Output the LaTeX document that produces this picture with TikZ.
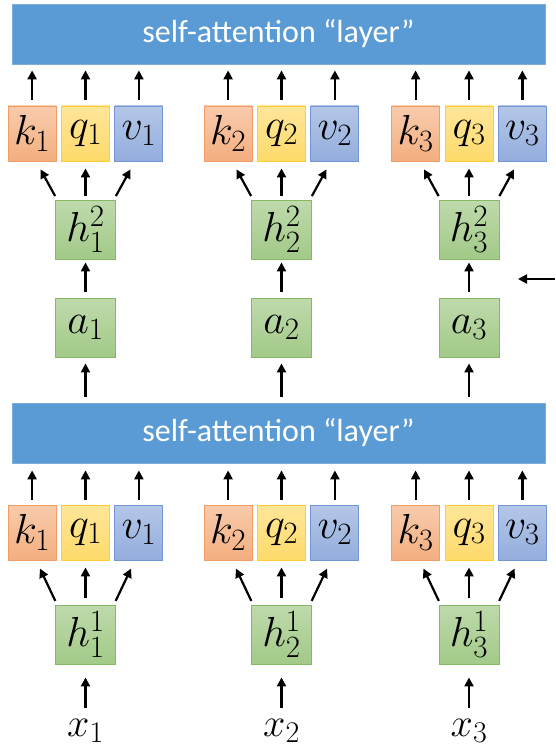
\RequirePackage{fix-cm}
\documentclass[tikz,border=0pt]{standalone}
\usepackage{fontspec}
\newfontfamily\barfont{Carlito}
\DeclareMathSizes{42}{42}{31}{22}
\DeclareMathSizes{40}{40}{30}{21}
\usetikzlibrary{arrows.meta,positioning,calc}
\definecolor{barblue}{HTML}{5B9BD5}
\definecolor{korange}{HTML}{ED7D31}
\definecolor{qgold}{HTML}{FFC000}
\definecolor{vblue}{HTML}{4472C4}
\definecolor{hgreen}{HTML}{70AD47}
\tikzset{
  cell/.style    = {inner sep=0pt, line width=0.9pt, font=\fontsize{42}{48}\selectfont},
  kbox/.style    = {cell, minimum width=48pt, minimum height=55pt, draw=korange!75!white,
                    top color=korange!40!white, bottom color=korange!62!white},
  qbox/.style    = {cell, minimum width=48pt, minimum height=55pt, draw=qgold!80!white,
                    top color=qgold!40!white, bottom color=qgold!58!white},
  vbox/.style    = {cell, minimum width=48pt, minimum height=55pt, draw=vblue!75!white,
                    top color=vblue!40!white, bottom color=vblue!58!white},
  hbox/.style    = {cell, minimum width=60pt, minimum height=59pt, draw=hgreen!85!white,
                    top color=hgreen!45!white, bottom color=hgreen!65!white},
  attnbar/.style = {fill=barblue, draw=barblue!80!white, line width=0.8pt,
                    minimum width=533pt, minimum height=60pt, text=white,
                    font=\barfont\fontsize{32}{36}\selectfont},
  up/.style      = {-{Triangle[length=9pt,width=9pt]}, line width=2.2pt, black},
}
\begin{document}
\begin{tikzpicture}[x=1pt,y=-1pt,node distance=4.5pt]
  \useasboundingbox (0,0) rectangle (555,749);
  \node[attnbar] (top) at (278.5,34) {self-attention “layer”};
  \node[attnbar] (bot) at (278.5,433) {self-attention “layer”};
  \coordinate (extin) at (555,279);
  \coordinate (extout) at (518,279);
  \draw[up] (extin) -- (extout);
  \foreach \c/\x in {1/85.5, 2/281.5, 3/469} {
    % lower layer
    \node[font=\fontsize{40}{46}\selectfont, inner sep=0pt, anchor=base] (x\c) at (\x,736) {$x_\c$};
    \node[hbox] (hb\c) at (\x,634.5) {$h^1_\c$};
    \node[qbox] (qb\c) at (\x,532.5) {$q_\c$};
    \node[kbox,left=of qb\c] (kb\c) {$k_\c$};
    \node[vbox,right=of qb\c] (vb\c) {$v_\c$};
    \draw[up,shorten <=11pt,shorten >=13pt] (x\c) -- (hb\c.south);
    \draw[up,shorten <=7pt,shorten >=7pt] (hb\c.north) -- (qb\c.south);
    \draw[up,shorten <=4pt,shorten >=9pt] ([xshift=2pt]hb\c.north west) -- ([xshift=4pt]kb\c.south);
    \draw[up,shorten <=4pt,shorten >=9pt] ([xshift=-2pt]hb\c.north east) -- ([xshift=-4pt]vb\c.south);
    \foreach \n in {kb,qb,vb}
      \draw[up,shorten <=5pt,shorten >=7pt] (\n\c.north) -- (\n\c.north |- bot.south);
    % upper layer
    \node[hbox] (a\c) at (\x,327.5) {$a_\c$};
    \node[hbox] (ht\c) at (\x,229.5) {$h^2_\c$};
    \node[qbox] (qt\c) at (\x,133.5) {$q_\c$};
    \node[kbox,left=of qt\c] (kt\c) {$k_\c$};
    \node[vbox,right=of qt\c] (vt\c) {$v_\c$};
    \draw[up,shorten <=6pt,shorten >=6pt] (a\c.south |- bot.north) -- (a\c.south);
    \draw[up,shorten <=6pt,shorten >=3pt] (a\c.north) -- (ht\c.south);
    \draw[up,shorten <=4pt,shorten >=7pt] (ht\c.north) -- (qt\c.south);
    \draw[up,shorten <=4pt,shorten >=9pt] ([xshift=2pt]ht\c.north west) -- ([xshift=4pt]kt\c.south);
    \draw[up,shorten <=4pt,shorten >=9pt] ([xshift=-2pt]ht\c.north east) -- ([xshift=-4pt]vt\c.south);
    \foreach \n in {kt,qt,vt}
      \draw[up,shorten <=6pt,shorten >=6pt] (\n\c.north) -- (\n\c.north |- top.south);
  }
\end{tikzpicture}
\end{document}
